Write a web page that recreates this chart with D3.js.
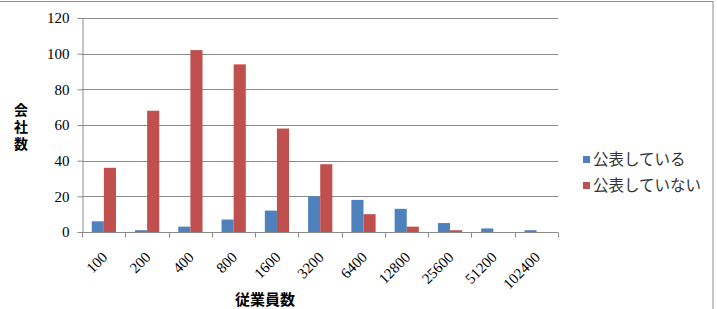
<!DOCTYPE html>
<html>
<head>
<meta charset="utf-8">
<script src="https://cdn.jsdelivr.net/npm/d3@7"></script>
<style>
  body { margin: 0; background: #fff; }
  svg { display: block; }
</style>
</head>
<body>
<svg id="chart" width="717" height="309"></svg>
<script>
// data
const categories = ["100", "200", "400", "800", "1600", "3200", "6400", "12800", "25600", "51200", "102400"];
const seriesNames = ["公表している", "公表していない"];
const published = [6, 1, 3, 7, 12, 20, 18, 13, 5, 2, 1];
const notPublished = [36, 68, 102, 94, 58, 38, 10, 3, 1, 0, 0];
const yTicks = [0, 20, 40, 60, 80, 100, 120];
const colors = ["#4F81BD", "#C0504D"];

const svg = d3.select("#chart");
const margin = {top: 18, left: 82, right: 159, bottom: 77};
const width = 717 - margin.left - margin.right;
const height = 309 - margin.top - margin.bottom;
const serif = "Liberation Serif, DejaVu Serif, serif";
const cjk = "Noto Sans CJK JP, sans-serif";

// outer frame
svg.append("rect")
    .attr("x", -2).attr("y", 1.5)
    .attr("width", 715).attr("height", 312)
    .attr("fill", "none")
    .attr("stroke", "#8c8c8c")
    .attr("stroke-width", 1);

const g = svg.append("g").attr("transform", `translate(${margin.left},${margin.top})`);

const x = d3.scaleBand().domain(categories).range([0, width]).paddingInner(0).paddingOuter(0);
const xs = d3.scaleBand().domain([0, 1]).range([x.bandwidth() * 0.225, x.bandwidth() * 0.785]);
const y = d3.scaleLinear().domain([0, 120]).range([height, 0]);

// gridlines
g.append("g")
    .selectAll("line")
    .data(yTicks.filter(d => d > 0))
    .join("line")
    .attr("x1", 0).attr("x2", width)
    .attr("y1", d => Math.round(y(d)) + 0.5)
    .attr("y2", d => Math.round(y(d)) + 0.5)
    .attr("stroke", "#8a8a8a");

// bars
const rows = categories.map((c, i) => ({cat: c, vals: [published[i], notPublished[i]]}));
g.append("g")
    .selectAll("g")
    .data(rows)
    .join("g")
    .attr("transform", d => `translate(${x(d.cat)},0)`)
    .selectAll("rect")
    .data(d => d.vals.map((v, k) => ({v, k})))
    .join("rect")
    .attr("x", d => xs(d.k))
    .attr("width", xs.bandwidth())
    .attr("y", d => y(d.v))
    .attr("height", d => height - y(d.v))
    .attr("fill", d => colors[d.k]);

// y axis
const yAxis = g.append("g")
    .attr("transform", "translate(0.5,0)")
    .call(d3.axisLeft(y).tickValues(yTicks).tickSize(5).tickSizeOuter(0).tickPadding(8));
yAxis.select(".domain").attr("stroke", "#8a8a8a");
yAxis.selectAll(".tick line").attr("stroke", "#8a8a8a");
yAxis.selectAll("text")
    .style("font-family", serif)
    .style("font-size", "15px")
    .attr("fill", "#000");

// x axis
const tickPos = d3.range(categories.length + 1).map(i => i * x.bandwidth());
const xg = g.append("g").attr("transform", `translate(0,${Math.round(height) + 0.5})`);
xg.append("line").attr("x1", 0).attr("x2", width).attr("stroke", "#8a8a8a");
xg.selectAll("line.tk")
    .data(tickPos)
    .join("line")
    .attr("class", "tk")
    .attr("x1", d => Math.round(d) + 0.5).attr("x2", d => Math.round(d) + 0.5)
    .attr("y1", 0).attr("y2", 5)
    .attr("stroke", "#8a8a8a");
xg.selectAll("text")
    .data(categories)
    .join("text")
    .attr("transform", d => `translate(${x(d) + x.bandwidth() / 2 + 1},${22}) rotate(-45)`)
    .attr("text-anchor", "end")
    .attr("dy", "0.35em")
    .style("font-family", serif)
    .style("font-size", "15px")
    .text(d => d);

// axis titles
svg.append("text")
    .attr("x", 265).attr("y", 305)
    .attr("text-anchor", "middle")
    .style("font-family", cjk)
    .attr("font-weight", "bold")
    .style("font-size", "15px")
    .text("従業員数");

svg.append("text")
    .attr("x", 21).attr("y", 103)
    .style("writing-mode", "vertical-rl")
    .style("font-family", cjk)
    .style("letter-spacing", "3px")
    .attr("font-weight", "bold")
    .style("font-size", "14px")
    .text("会社数");

// legend
const legend = svg.append("g")
    .selectAll("g")
    .data(seriesNames)
    .join("g")
    .attr("transform", (d, i) => `translate(583,${160 + i * 26})`);
legend.append("rect")
    .attr("x", 0).attr("y", -4)
    .attr("width", 7).attr("height", 7)
    .attr("fill", (d, i) => colors[i]);
legend.append("text")
    .attr("x", 10).attr("dy", "0.35em")
    .style("font-family", cjk)
    .style("font-size", "15.5px")
    .attr("fill", "#333")
    .text(d => d);
</script>
</body>
</html>
